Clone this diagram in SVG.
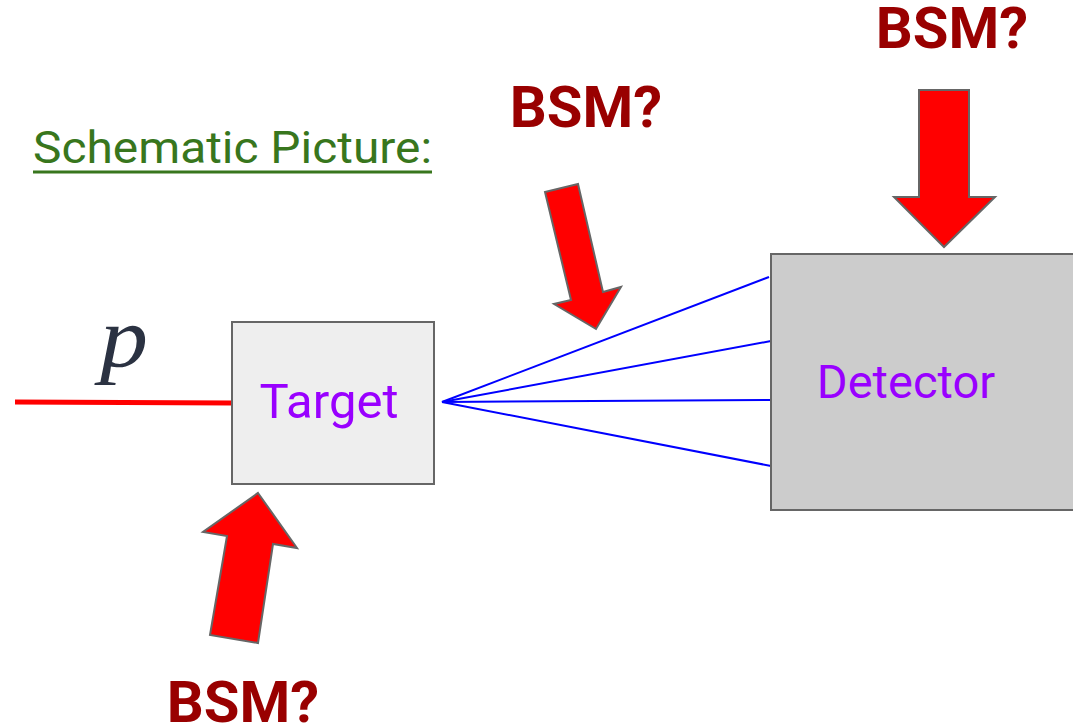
<svg xmlns="http://www.w3.org/2000/svg" width="1073" height="727" viewBox="0 0 1073 727">
<style>
.box{stroke:#666666;stroke-width:2}
.arrow{fill:#ff0000;stroke:#666666;stroke-width:2;stroke-linejoin:miter}
.bsm{font-family:Roboto,"Liberation Sans",sans-serif;font-weight:bold;font-size:58px;fill:#990000}
.lbl{font-family:Roboto,"Liberation Sans",sans-serif;fill:#9900ff}
.ray{stroke:#0000ff;stroke-width:2;fill:none}
</style>
<rect width="1073" height="727" fill="#ffffff"/>
<g id="title">
<text x="33" y="163" font-family="Roboto,'Liberation Sans',sans-serif" font-size="45" fill="#38761d" textLength="399" lengthAdjust="spacingAndGlyphs">Schematic Picture:</text>
<rect x="33" y="170.5" width="399" height="3" fill="#38761d"/>
</g>
<g id="connectors">
<line x1="15" y1="402" x2="232" y2="403" stroke="#ff0000" stroke-width="5"/>
<line class="ray" x1="442" y1="402" x2="769" y2="277"/>
<line class="ray" x1="442" y1="402" x2="771" y2="341"/>
<line class="ray" x1="442" y1="402" x2="771" y2="400"/>
<line class="ray" x1="442" y1="402" x2="771" y2="466"/>
</g>
<g id="beam-label">
<text x="100" y="366" font-family="'Liberation Serif',serif" font-style="italic" font-size="86" fill="#2b3242" textLength="48" lengthAdjust="spacingAndGlyphs">p</text>
</g>
<g id="target">
<rect class="box" x="232" y="322" width="202" height="162" fill="#eeeeee"/>
<text class="lbl" x="329" y="418" font-size="49" text-anchor="middle">Target</text>
</g>
<g id="detector">
<rect class="box" x="771" y="254" width="310" height="256" fill="#cccccc"/>
<text class="lbl" x="906" y="398" font-size="47" text-anchor="middle">Detector</text>
</g>
<g id="arrow-top">
<polygon class="arrow" points="919,90 969,90 969,197 995,197 944,247 894,197 919,197"/>
<text class="bsm" x="952" y="48" text-anchor="middle">BSM?</text>
</g>
<g id="arrow-middle">
<polygon class="arrow" points="545,192 578,184 603,292 621,287 596,329 554,304 571,300"/>
<text class="bsm" x="586" y="127" text-anchor="middle">BSM?</text>
</g>
<g id="arrow-bottom">
<polygon class="arrow" points="258,493 297,548 273,544 258,643 210,635 227,536 203,532"/>
<text class="bsm" x="243" y="722" text-anchor="middle">BSM?</text>
</g>
</svg>
